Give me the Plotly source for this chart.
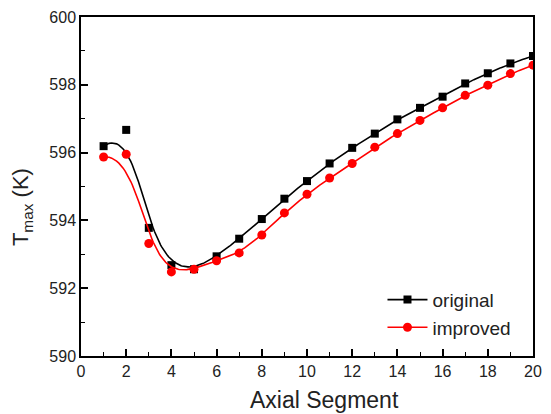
import numpy as np
import plotly.graph_objects as go

segments = list(range(1, 21))
original = [596.19, 596.67, 593.78, 592.68, 592.56, 592.94, 593.46, 594.04, 594.64, 595.16,
            595.68, 596.14, 596.56, 596.98, 597.32, 597.65, 598.04, 598.34, 598.63, 598.85]
improved = [595.87, 595.95, 593.32, 592.48, 592.56, 592.81, 593.04, 593.57, 594.22, 594.77,
            595.25, 595.68, 596.16, 596.56, 596.95, 597.32, 597.69, 597.99, 598.33, 598.58]
x_title = "Axial Segment"
y_title = "T<sub>max</sub> (K)"


def bspline(xs, ys, n=400, k=3):
    P = np.column_stack([xs, ys]).astype(float)
    m = len(P)
    knots = np.concatenate([np.zeros(k), np.linspace(0, 1, m - k + 1), np.ones(k)])
    t = np.linspace(0, 1, n)
    t[-1] = 1 - 1e-12

    def N(i, p, tt):
        if p == 0:
            return np.where((knots[i] <= tt) & (tt < knots[i + 1]), 1.0, 0.0)
        a = np.zeros_like(tt)
        b = np.zeros_like(tt)
        d1 = knots[i + p] - knots[i]
        d2 = knots[i + p + 1] - knots[i + 1]
        if d1 > 0:
            a = (tt - knots[i]) / d1 * N(i, p - 1, tt)
        if d2 > 0:
            b = (knots[i + p + 1] - tt) / d2 * N(i + 1, p - 1, tt)
        return a + b

    B = np.array([N(i, k, t) for i in range(m)])
    C = B.T @ P
    return C[:, 0], C[:, 1]


FONT = "Arial, Liberation Sans, sans-serif"

fig = go.Figure()
for name, ys, color, sym, size in [("original", original, "black", "square", 8),
                                   ("improved", improved, "red", "circle", 9)]:
    cx, cy = bspline(segments, ys)
    fig.add_trace(go.Scatter(x=cx, y=cy, mode="lines", line=dict(color=color, width=1.6),
                             showlegend=False, hoverinfo="skip"))
    fig.add_trace(go.Scatter(x=segments, y=ys, mode="markers",
                             marker=dict(color=color, symbol=sym, size=size),
                             showlegend=False))
    fig.add_trace(go.Scatter(x=[None], y=[None], mode="lines+markers", name=name,
                             line=dict(color=color, width=1.6),
                             marker=dict(color=color, symbol=sym, size=size)))

axis_common = dict(showgrid=False, zeroline=False, showline=True, linecolor="black",
                   linewidth=1.5, mirror=True, ticks="inside", ticklen=7, tickwidth=1.5,
                   tickcolor="black", tickfont=dict(family=FONT, size=16, color="#222"),
                   minor=dict(ticks="inside", ticklen=4, tickwidth=1.2, tickcolor="black", dtick=1))

fig.update_xaxes(range=[0, 20], dtick=2, tick0=0, **axis_common)
fig.update_yaxes(range=[590, 600], dtick=2, tick0=590, **axis_common)

fig.add_annotation(text=x_title, xref="paper", yref="paper", x=0.539, y=-0.13,
                   xanchor="center", yanchor="middle", showarrow=False,
                   font=dict(family=FONT, size=23, color="#222"))
fig.add_annotation(text=y_title, xref="paper", yref="paper", x=-0.13, y=0.44,
                   xanchor="center", yanchor="middle", showarrow=False, textangle=-90,
                   font=dict(family=FONT, size=22, color="#222"))

fig.update_layout(
    width=551, height=414,
    margin=dict(l=81, r=9, t=17, b=58),
    paper_bgcolor="white", plot_bgcolor="white",
    legend=dict(x=0.667, y=0.222, xanchor="left", yanchor="top", bgcolor="rgba(0,0,0,0)",
                font=dict(family=FONT, size=19, color="#222"),
                tracegroupgap=0, itemwidth=40),
)

fig.write_html("out.html", post_script="document.body.style.margin='0';",
               config={"displayModeBar": False})
